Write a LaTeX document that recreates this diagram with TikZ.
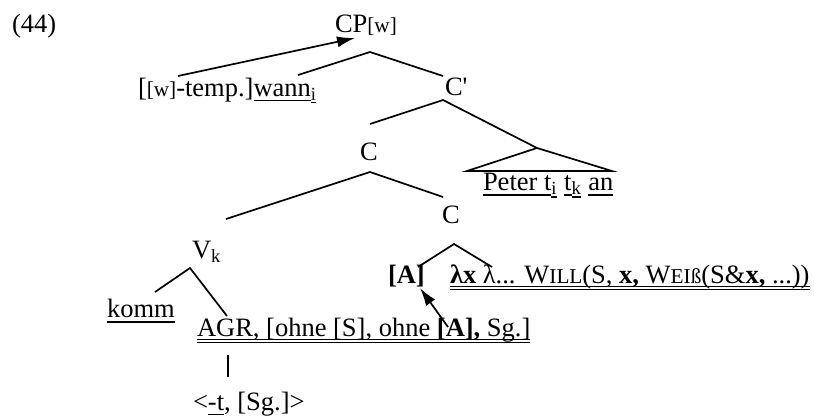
\documentclass[tikz,border=0pt]{standalone}
\usepackage{fontspec}
\setmainfont{Liberation Serif}[Ligatures=TeXOff]
\usetikzlibrary{arrows.meta}
\newcommand\ulx[2][2.7pt]{\setbox0=\hbox{#2}\rlap{\rule[-#1]{\wd0}{0.55pt}}\box0}
\newcommand\tul[2][2.9pt]{\setbox0=\hbox{#2}\rlap{\rule[-#1]{\wd0}{1pt}}\box0}
\newcommand\dul[1]{\setbox0=\hbox{#1}\rlap{\rule[-1.9pt]{\wd0}{0.5pt}}\rlap{\rule[-3.7pt]{\wd0}{0.5pt}}\box0}
\newcommand\fsc[1]{{\fontsize{10.6}{12}\selectfont #1}}
\begin{document}
\begin{tikzpicture}[x=0.5pt,y=-0.5pt,
  txt/.style={anchor=base west,inner sep=0pt,outer sep=0pt,font=\fontsize{13.25}{16}\selectfont},
  edge/.style={line width=0.85pt},
  mv/.style={line width=0.85pt,-{Latex[length=9pt,width=5.5pt]}}]
\useasboundingbox (0,0) rectangle (814,419);
% labels
\node[txt] (n44) at (12,32) {(44)};
\node[txt] (cp) at (335,32) {CP\fsc{[w]}};
\node[txt] (wann) at (138,96) {[\fsc{[w]}-temp.]\ulx{wann}\textsubscript{\ulx[1.4pt]{i}}};
\node[txt] (cbar) at (445,95) {C'};
\node[txt] (c1) at (360,160) {C};
\node[txt] (peter) at (483,190) {\tul{Peter t}\textsubscript{\tul[1.6pt]{i}} \tul{t}\textsubscript{\tul[1.6pt]{k}} \tul{an}};
\node[txt] (c2) at (442,223) {C};
\node[txt] (vk) at (192,258) {V\textsubscript{k}};
\node[txt] (a) at (388,283) {\textbf{[A]}};
\node[txt] (lam) at (450,283) {\dul{\textbf{λx} λ... W\fsc{ILL}(S, \textbf{x,} W\fsc{EIß}(S\&\textbf{x,} ...))}};
\node[txt] (komm) at (107,317) {\tul{komm}};
\node[txt] (agr) at (197,336) {\dul{AGR, [ohne [S], ohne \textbf{[A],} Sg.]}};
\node[txt] (aff) at (193,410) {<\ulx{-t}, [Sg.]>};
% branch points
\coordinate (cpB) at (370,52);
\coordinate (wannT) at (298,75);
\coordinate (cbarT) at (443,76);
\coordinate (cbarB) at (443,100);
\coordinate (c1T) at (370,124);
\coordinate (triA) at (537,148);
\coordinate (triL) at (467,171);
\coordinate (triR) at (612,171);
\coordinate (c1B) at (370,172);
\coordinate (vkT) at (226,219);
\coordinate (c2T) at (443,197);
\coordinate (c2B) at (454,244);
\coordinate (aT) at (418,267);
\coordinate (lamT) at (492,267);
\coordinate (vkB) at (190,268);
\coordinate (kommT) at (155,292);
\coordinate (agrT) at (227,316);
\coordinate (agrB) at (228,355);
\coordinate (affT) at (228,377);
\coordinate (mvS) at (178,76);
\coordinate (mvE) at (355,38);
\coordinate (mv2S) at (448,327);
\coordinate (mv2E) at (420,288);
% tree edges
\draw[edge] (wannT) -- (cpB) -- (cbarT);
\draw[edge] (c1T) -- (cbarB) -- (triA);
\draw[edge] (triA) -- (triL) -- (triR) -- cycle;
\draw[edge] (vkT) -- (c1B) -- (c2T);
\draw[edge] (aT) -- (c2B) -- (lamT);
\draw[edge] (kommT) -- (vkB) -- (agrT);
\draw[edge] (agrB) -- (affT);
% movement arrows
\draw[mv] (mvS) -- (mvE);
\draw[mv] (mv2S) -- (mv2E);
\end{tikzpicture}
\end{document}
